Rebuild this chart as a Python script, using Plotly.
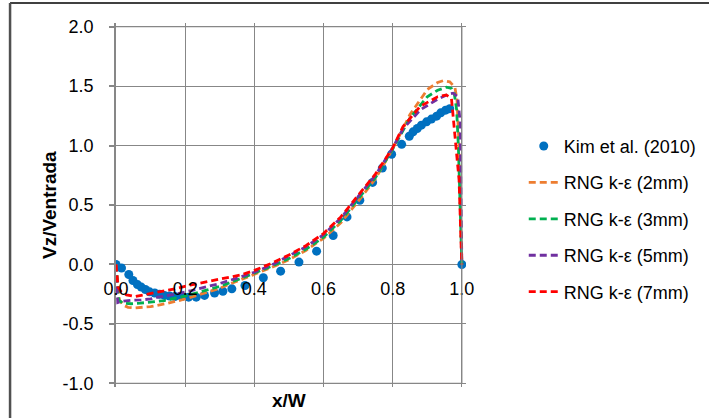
import plotly.graph_objects as go

# ---------------- data ----------------
kim_x = [0.0, 0.016, 0.037, 0.049, 0.062, 0.073, 0.085, 0.097, 0.112, 0.126, 0.14, 0.155,
         0.17, 0.19, 0.21, 0.232, 0.256, 0.285, 0.309, 0.335, 0.373, 0.426, 0.476, 0.529,
         0.58, 0.628, 0.668, 0.705, 0.742, 0.77, 0.797, 0.826, 0.848, 0.859, 0.871, 0.883,
         0.898, 0.912, 0.927, 0.939, 0.953, 0.965, 1.0]
kim_y = [0.0, -0.03, -0.084, -0.135, -0.169, -0.19, -0.21, -0.23, -0.24, -0.25, -0.26, -0.265,
         -0.27, -0.27, -0.275, -0.275, -0.26, -0.24, -0.225, -0.205, -0.177, -0.112, -0.056, 0.02,
         0.112, 0.244, 0.40, 0.54, 0.69, 0.81, 0.927, 1.01, 1.078, 1.115, 1.143, 1.171,
         1.199, 1.222, 1.247, 1.275, 1.297, 1.31, 0.0]

mm2_x = [0.0, 0.005, 0.01, 0.02, 0.035, 0.055, 0.08, 0.1, 0.15, 0.2, 0.25, 0.3, 0.35, 0.4, 0.45,
         0.5, 0.55, 0.6, 0.65, 0.7, 0.75, 0.8, 0.85, 0.9, 0.93, 0.946, 0.965, 0.98, 0.986, 0.992,
         0.997, 1.0]
mm2_y = [0.0, -0.15, -0.3, -0.34, -0.36, -0.365, -0.362, -0.354, -0.326, -0.29, -0.245, -0.2,
         -0.14, -0.085, -0.025, 0.04, 0.12, 0.22, 0.35, 0.53, 0.72, 0.97, 1.26, 1.47, 1.53, 1.545,
         1.535, 1.49, 1.38, 1.0, 0.4, 0.0]

mm3_x = [0.0, 0.004, 0.008, 0.02, 0.044, 0.07, 0.092, 0.14, 0.2, 0.25, 0.3, 0.35, 0.4, 0.45,
         0.5, 0.55, 0.6, 0.65, 0.7, 0.75, 0.8, 0.85, 0.9, 0.93, 0.955, 0.97, 0.978, 0.985, 0.99,
         0.996, 1.0]
mm3_y = [0.0, -0.15, -0.3, -0.325, -0.33, -0.325, -0.318, -0.303, -0.265, -0.225, -0.185, -0.13,
         -0.075, -0.015, 0.05, 0.13, 0.23, 0.37, 0.55, 0.73, 0.97, 1.23, 1.41, 1.465, 1.49, 1.48,
         1.44, 1.3, 0.99, 0.5, 0.0]

mm5_x = [0.0, 0.002, 0.005, 0.015, 0.03, 0.05, 0.073, 0.1, 0.121, 0.17, 0.218, 0.266, 0.3, 0.35,
         0.4, 0.45, 0.5, 0.55, 0.6, 0.65, 0.7, 0.75, 0.8, 0.83, 0.88, 0.93, 0.96, 0.975, 0.988,
         0.995, 0.998, 1.0]
mm5_y = [0.0, -0.15, -0.32, -0.31, -0.303, -0.3, -0.298, -0.29, -0.275, -0.25, -0.219, -0.186,
         -0.16, -0.115, -0.065, -0.005, 0.07, 0.15, 0.25, 0.39, 0.57, 0.75, 0.98, 1.14, 1.30, 1.39,
         1.43, 1.44, 1.41, 1.2, 0.5, 0.0]

mm7_x = [0.0, 0.003, 0.006, 0.015, 0.03, 0.054, 0.083, 0.121, 0.17, 0.218, 0.266, 0.314, 0.362,
         0.4, 0.45, 0.5, 0.55, 0.6, 0.65, 0.7, 0.75, 0.8, 0.83, 0.88, 0.93, 0.955, 0.97, 0.983,
         0.992, 0.998, 1.0]
mm7_y = [0.0, -0.1, -0.19, -0.23, -0.255, -0.27, -0.255, -0.233, -0.205, -0.171, -0.143, -0.12,
         -0.087, -0.05, 0.01, 0.08, 0.16, 0.26, 0.4, 0.58, 0.76, 0.98, 1.16, 1.33, 1.41, 1.425,
         1.395, 0.99, 0.71, 0.15, 0.0]

names = ["Kim et al. (2010)", "RNG k-ε (2mm)", "RNG k-ε (3mm)", "RNG k-ε (5mm)", "RNG k-ε (7mm)"]
colors = ["#0070C0", "#ED7D31", "#00B050", "#7030A0", "#FF0000"]

x_ticks = [0.0, 0.2, 0.4, 0.6, 0.8, 1.0]
y_ticks = [-1.0, -0.5, 0.0, 0.5, 1.0, 1.5, 2.0]

FONT = "Liberation Sans"
FS = 18
GRID = "#878787"
GW = 1.2

X_RANGE = [0.0, 1.012]
Y_RANGE = [-1.03, 2.03]


def px_(v):  # x value -> paper fraction
    return (v - X_RANGE[0]) / (X_RANGE[1] - X_RANGE[0])


def py_(v):  # y value -> paper fraction
    return (v - Y_RANGE[0]) / (Y_RANGE[1] - Y_RANGE[0])


fig = go.Figure()
fig.add_trace(go.Scatter(x=kim_x, y=kim_y, mode="markers", name=names[0],
                         marker=dict(color=colors[0], size=9), legendgroup="g0"))
for i, (xs, ys) in enumerate([(mm2_x, mm2_y), (mm3_x, mm3_y), (mm5_x, mm5_y), (mm7_x, mm7_y)]):
    fig.add_trace(go.Scatter(x=xs, y=ys, mode="lines", name=names[i + 1],
                             line=dict(color=colors[i + 1], width=2.8, dash="7px,4px"),
                             legendgroup="g%d" % (i + 1)))

# grid lines at the range ends (in case plotly skips gridlines near the plot edges)
edge_shapes = [
    dict(type="line", xref="paper", yref="paper",
         x0=px_(x_ticks[0]), x1=px_(x_ticks[-1]), y0=py_(y_ticks[-1]), y1=py_(y_ticks[-1]),
         line=dict(color=GRID, width=GW)),
    dict(type="line", xref="paper", yref="paper",
         x0=px_(x_ticks[0]), x1=px_(x_ticks[-1]), y0=py_(y_ticks[0]), y1=py_(y_ticks[0]),
         line=dict(color=GRID, width=GW)),
    dict(type="line", xref="paper", yref="paper",
         x0=px_(x_ticks[-1]), x1=px_(x_ticks[-1]), y0=py_(y_ticks[0]), y1=py_(y_ticks[-1]),
         line=dict(color=GRID, width=GW)),
]
border_shapes = [
    dict(type="line", xref="paper", yref="paper", x0=-0.3027, x1=2.0, y0=1.0547, y1=1.0547,
         line=dict(color="#404040", width=2)),
    dict(type="line", xref="paper", yref="paper", x0=-0.3027, x1=-0.3027, y0=-0.5, y1=1.0547,
         line=dict(color="#505050", width=2.5)),
]

fig.update_layout(
    width=709, height=418,
    margin=dict(l=116, r=242.8, t=23.44, b=31.44, autoexpand=False),
    paper_bgcolor="white", plot_bgcolor="white",
    font=dict(family=FONT, size=FS, color="#000000"),
    showlegend=True,
    legend=dict(x=1.165, y=0.712, xanchor="left", yanchor="top", tracegroupgap=10,
                font=dict(family=FONT, size=FS, color="#000000"), bgcolor="rgba(0,0,0,0)"),
    xaxis=dict(range=X_RANGE, tickvals=x_ticks, ticktext=["%.1f" % v for v in x_ticks],
               showgrid=True, gridcolor=GRID, gridwidth=GW, zeroline=False,
               showline=False, ticks="", anchor="free",
               position=py_(0.0),
               ticklabelstandoff=12, tickfont=dict(family=FONT, size=FS)),
    yaxis=dict(range=Y_RANGE, tickvals=y_ticks, ticktext=["%.1f" % v for v in y_ticks],
               showgrid=True, gridcolor=GRID, gridwidth=GW, zeroline=False,
               showline=True, linecolor=GRID, linewidth=1.5, ticks="outside", ticklen=5,
               tickcolor=GRID, tickwidth=1.5, ticklabelstandoff=12,
               tickfont=dict(family=FONT, size=FS)),
    annotations=[
        dict(text="<b>Vz/Ventrada</b>", x=-0.1885, y=py_(0.5), xref="paper", yref="paper",
             textangle=-90, showarrow=False, font=dict(family=FONT, size=19),
             xanchor="center", yanchor="middle"),
        dict(text="<b>x/W</b>", x=px_(0.5), y=-0.037, xref="paper", yref="paper",
             showarrow=False, font=dict(family=FONT, size=19),
             xanchor="center", yanchor="middle"),
    ],
    shapes=edge_shapes + border_shapes,
)

fig.write_html("out.html")
